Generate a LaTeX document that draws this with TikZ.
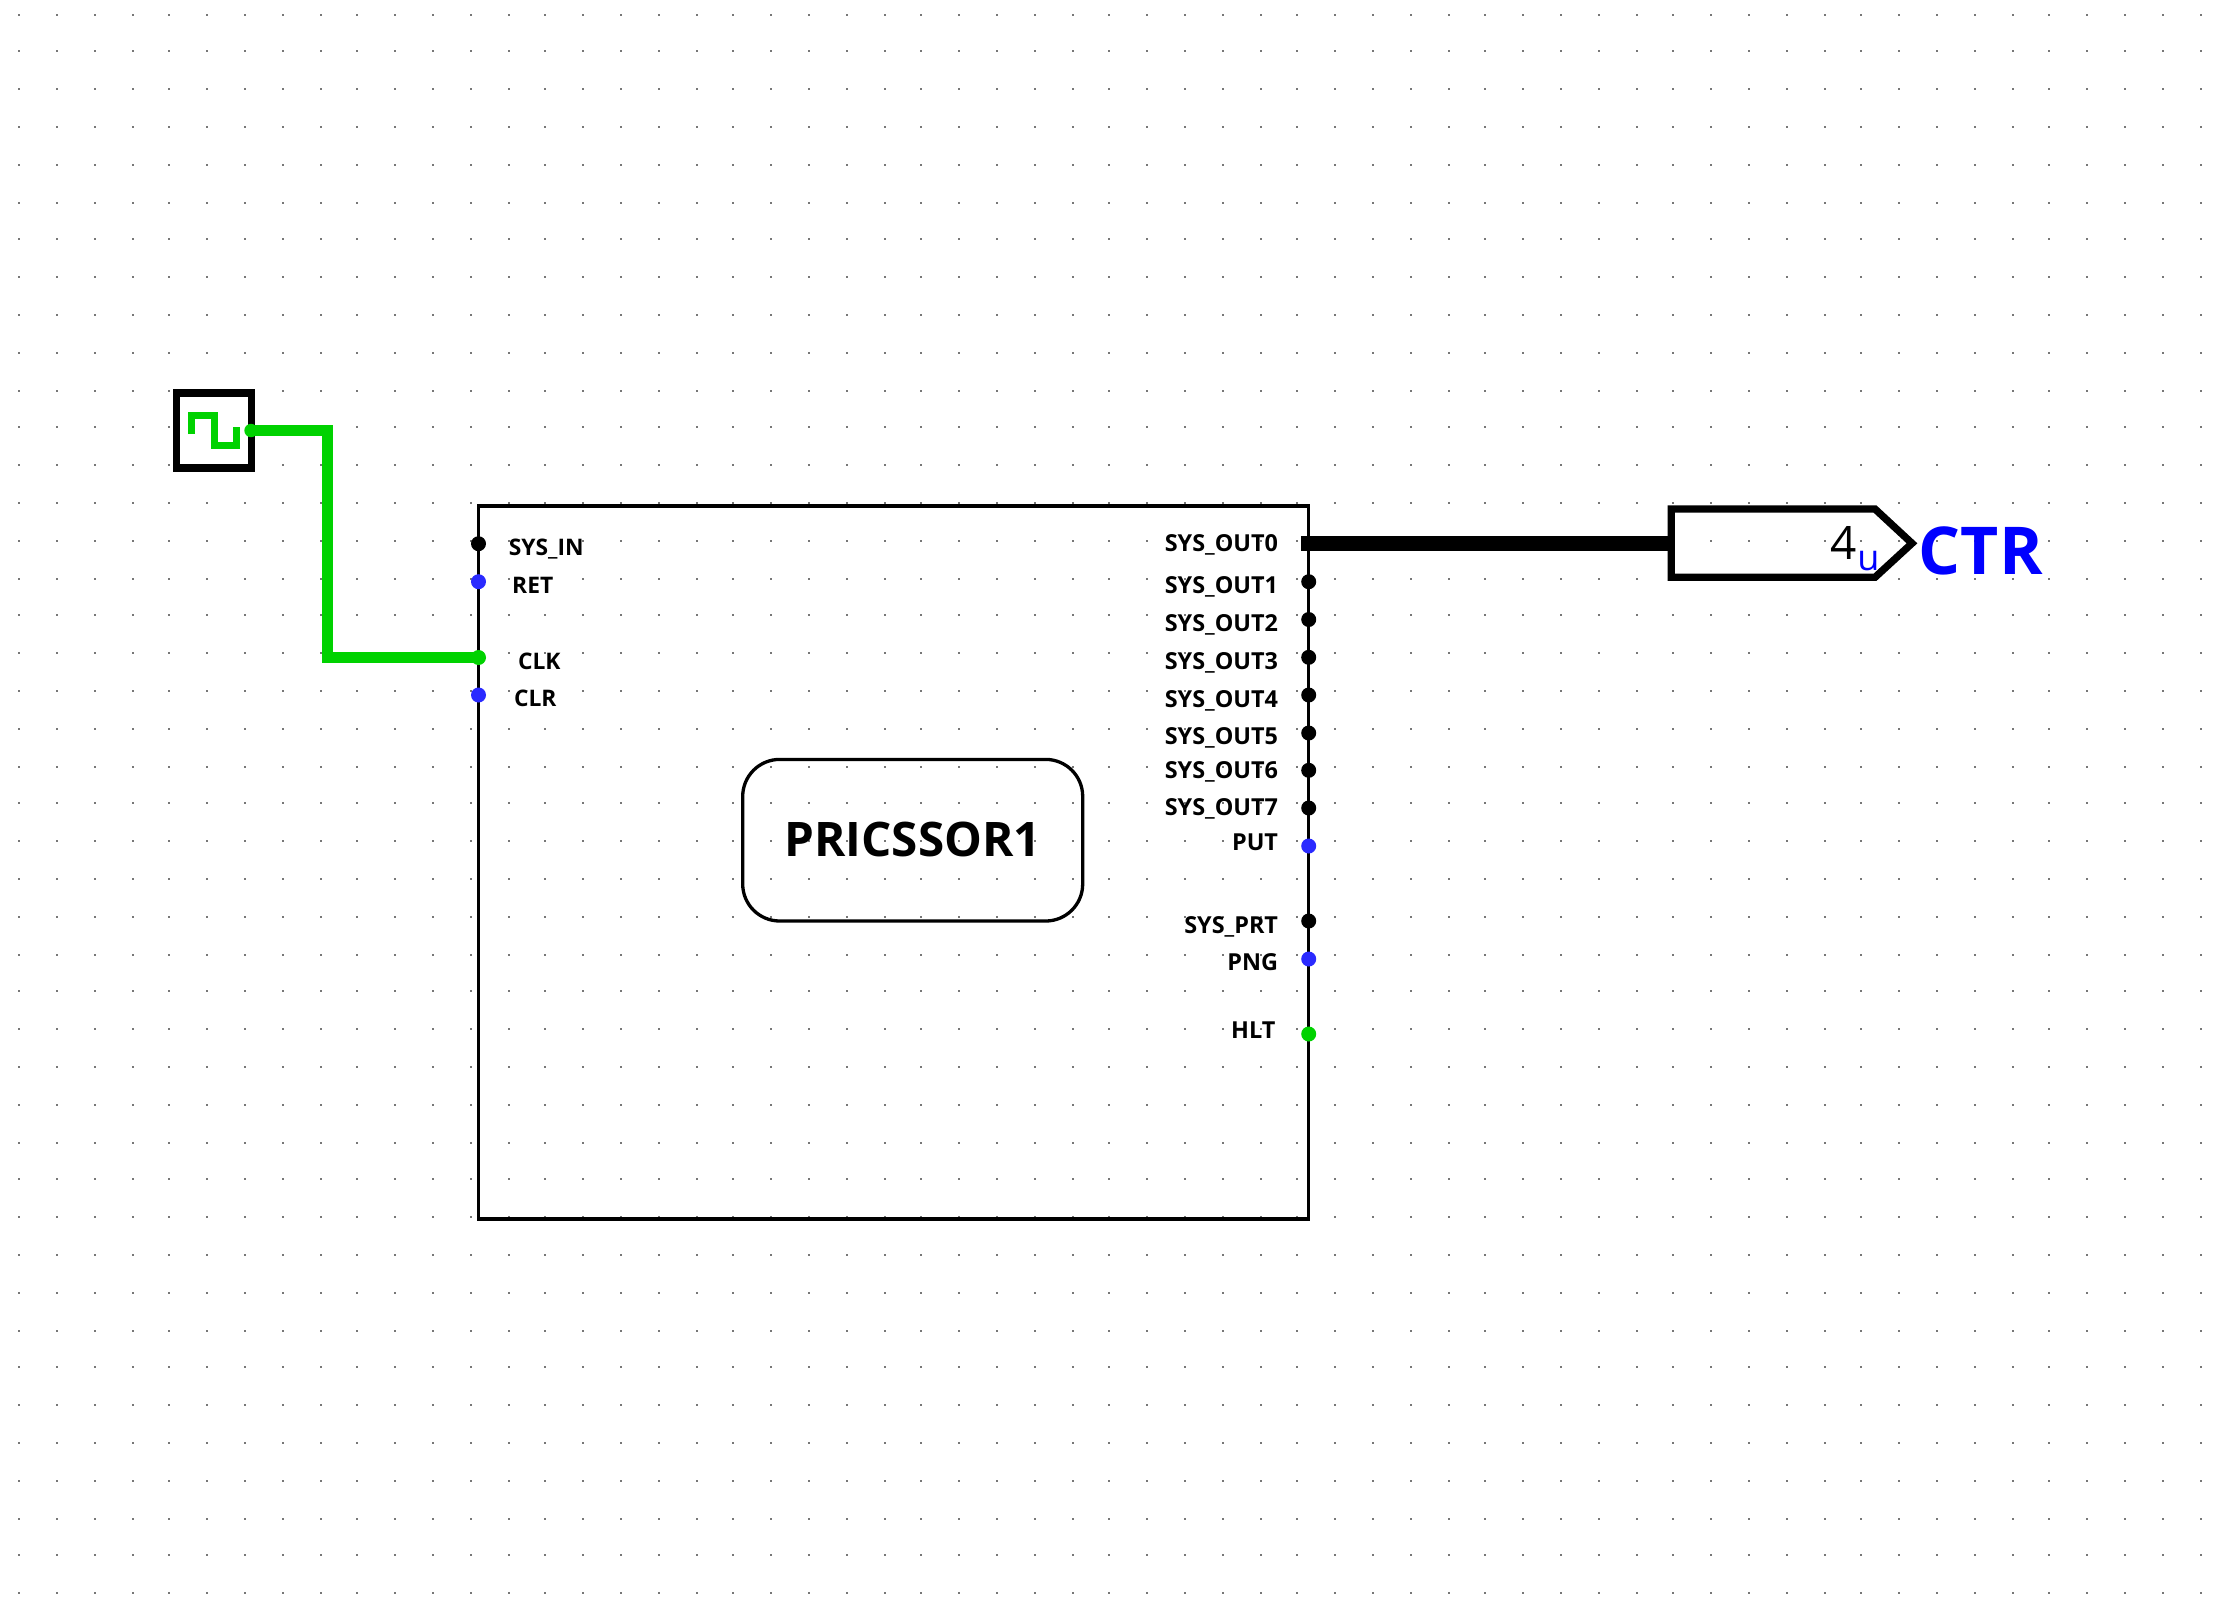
\documentclass[tikz,border=0pt]{standalone}
\usepackage{fontspec}
\setmainfont{Open Sans}
\definecolor{simgreen}{HTML}{00D200}
\definecolor{pinblue}{HTML}{2A2AFF}
\definecolor{griddot}{HTML}{777777}
\definecolor{labelblue}{HTML}{0000FF}
\tikzset{
  griddotstyle/.style={fill=griddot,draw=none},
  plabel/.style={inner sep=0pt,outer sep=0pt,font=\fontsize{11.7}{13}\selectfont\bfseries},
  plabelr/.style={plabel,anchor=base east},
  plabell/.style={inner sep=0pt,outer sep=0pt,font=\fontsize{11.4}{13}\selectfont\bfseries,anchor=base west},
  pinnode/.style={circle,inner sep=0pt,outer sep=0pt,minimum size=7.5pt,fill=#1,draw=none},
  wiregreen/.style={draw=simgreen,line width=5.5pt,line join=miter},
  busline/.style={draw=black,line width=7.5pt},
  boxline/.style={draw=black,line width=1.65pt},
  tunnelline/.style={draw=black,line width=3.65pt,line join=miter,miter limit=10},
  wavestyle/.style={draw=simgreen,line width=3.65pt,line join=miter}
}
\begin{document}
\begin{tikzpicture}[x=0.5pt,y=-0.5pt]
\useasboundingbox (0,0) rectangle (2224,1614);
\fill[white] (0,0) rectangle (2224,1614);
% grid
\foreach \i in {0,...,58}{
  \pgfmathsetmacro\xx{19+2*round(18.8*\i+0.2)}
  \foreach \j in {0,...,42}{
    \pgfmathsetmacro\yy{15+2*round(18.8*\j-0.4)}
    \fill[griddotstyle] (\xx-1,\yy-1) rectangle +(2,2);
  }
}
% main block
\node[rectangle,boxline,inner sep=0pt,outer sep=0pt,minimum width=415pt,minimum height=356.5pt] (proc) at (893.5,862.5) {};
\node[rectangle,rounded corners=18.5pt,boxline,inner sep=0pt,outer sep=0pt,minimum width=170pt,minimum height=80.8pt,
  font=\fontsize{23.8}{26}\selectfont\bfseries] (title) at (912.7,840.2) {\raisebox{1.25pt}{PRICSSOR1}};
% clock
\node[rectangle,fill=white,draw=black,line width=3.65pt,inner sep=0pt,outer sep=0pt,minimum size=37.5pt] (clock) at (214,430.5) {};
\draw[wavestyle] (191.5,434) -- (191.5,415.5) -- (214.7,415.5) -- (214.7,445.5) -- (236.3,445.5) -- (236.3,426.7);
\node[pinnode=simgreen,minimum size=6.7pt] (clkpin) at (251,430.5) {};
% left pins
\coordinate (wb1) at (327.5,430.5);
\coordinate (wb2) at (327.5,657.5);
\node[pinnode=black] (pinIN) at (478.5,543.7) {};
\node[pinnode=pinblue] (pinRET) at (478.5,581.7) {};
\node[pinnode=simgreen] (pinCLK) at (478.5,657.5) {};
\node[pinnode=pinblue] (pinCLR) at (478.5,695) {};
\draw[wiregreen] (clkpin.center) -- (wb1) -- (wb2) -- (pinCLK.center);
\node[plabell] (lIN) at (508.8,555.5) {SYS\_IN};
\node[plabell] (lRET) at (512.2,593.5) {RET};
\node[plabell] (lCLK) at (518,669) {CLK};
\node[plabell] (lCLR) at (514,706.5) {CLR};
% right pins
\node[pinnode=black] (pinO1) at (1308.7,581.7) {};
\node[pinnode=black] (pinO2) at (1308.7,619.5) {};
\node[pinnode=black] (pinO3) at (1308.7,657.3) {};
\node[pinnode=black] (pinO4) at (1308.7,695) {};
\node[pinnode=black] (pinO5) at (1308.7,733) {};
\node[pinnode=black] (pinO6) at (1308.7,770.3) {};
\node[pinnode=black] (pinO7) at (1308.7,808) {};
\node[pinnode=pinblue] (pinPUT) at (1308.7,846) {};
\node[pinnode=black] (pinPRT) at (1308.7,921) {};
\node[pinnode=pinblue] (pinPNG) at (1308.7,959) {};
\node[pinnode=simgreen] (pinHLT) at (1308.7,1034) {};
\node[plabelr] (lO0) at (1278,551.5) {SYS\_OUT0};
\node[plabelr] (lO1) at (1278,593.5) {SYS\_OUT1};
\node[plabelr] (lO2) at (1278,631.5) {SYS\_OUT2};
\node[plabelr] (lO3) at (1278,669.5) {SYS\_OUT3};
\node[plabelr] (lO4) at (1278,707) {SYS\_OUT4};
\node[plabelr] (lO5) at (1278,744.5) {SYS\_OUT5};
\node[plabelr] (lO6) at (1278,778.3) {SYS\_OUT6};
\node[plabelr] (lO7) at (1278,815.8) {SYS\_OUT7};
\node[plabelr] (lPUT) at (1278,850) {PUT};
\node[plabelr] (lPRT) at (1278,933.5) {SYS\_PRT};
\node[plabelr] (lPNG) at (1278,970.5) {PNG};
\node[plabelr] (lHLT) at (1275.3,1038.5) {HLT};
% bus and tunnel
\coordinate (busstart) at (1301,543.3);
\coordinate (tin) at (1671.3,543.3);
\coordinate (t1) at (1671.3,509);
\coordinate (t2) at (1875,509);
\coordinate (t3) at (1912,543.3);
\coordinate (t4) at (1875,577.3);
\coordinate (t5) at (1671.3,577.3);
\draw[busline] (busstart) -- (tin);
\draw[tunnelline] (t1) -- (t2) -- (t3) -- (t4) -- (t5) -- cycle;
\node[inner sep=0pt,anchor=base west,font=\fontsize{23}{26}\selectfont] (four) at (1830.5,559) {4};
\node[inner sep=0pt,anchor=base west,text=labelblue,font=\fontsize{18}{20}\selectfont] (unit) at (1857,570) {u};
\node[inner sep=0pt,anchor=base west,text=labelblue,font=\fontsize{33}{36}\selectfont\bfseries] (ctr) at (1918.5,574) {CTR};
\end{tikzpicture}
\end{document}
